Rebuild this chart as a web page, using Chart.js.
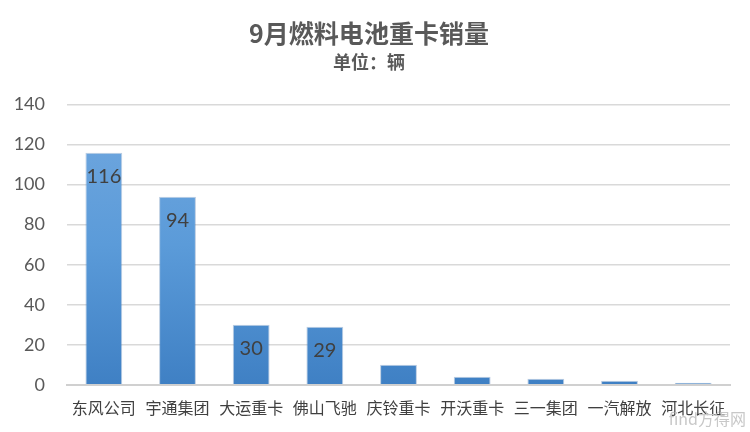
<!DOCTYPE html>
<html>
<head>
<meta charset="utf-8">
<script src="https://cdn.jsdelivr.net/npm/chart.js@4.4.1/dist/chart.umd.min.js"></script>
<style>
    html, body { margin: 0; padding: 0; background: #ffffff; }
    #wrap { position: relative; width: 750px; height: 432px; }
    #mark { position: absolute; right: 4px; bottom: 2px; font: 16px 'Noto Sans CJK SC', sans-serif; color: #c8c8c8; }
</style>
</head>
<body>
<div id="wrap">
    <canvas id="salesChart" width="750" height="432"></canvas>
    <div id="mark">find方得网</div>
</div>
<script>
var categories = ['东风公司', '宇通集团', '大运重卡', '佛山飞驰', '庆铃重卡', '开沃重卡', '三一集团', '一汽解放', '河北长征'];
var sales = [116, 94, 30, 29, 10, 4, 3, 2, 1];
var labelled = [true, true, true, true, false, false, false, false, false];
var yTicks = [0, 20, 40, 60, 80, 100, 120, 140];

// Values drawn just below the top of the bar, like Excel "inside end"
var insideLabels = {
    id: 'insideLabels',
    afterDatasetsDraw: function(chart) {
        var ctx = chart.ctx;
        var meta = chart.getDatasetMeta(0);
        ctx.save();
        ctx.font = '20px Lato, sans-serif';
        ctx.fillStyle = '#404040';
        ctx.textAlign = 'center';
        ctx.textBaseline = 'middle';
        meta.data.forEach(function(bar, i) {
            if (!labelled[i]) return;
            ctx.fillText(String(sales[i]), bar.x, bar.y + 24);
        });
        ctx.restore();
    }
};

function barFill(context) {
    var area = context.chart.chartArea;
    if (!area) return '#5b9bd5';
    var g = context.chart.ctx.createLinearGradient(0, area.top, 0, area.bottom);
    g.addColorStop(0, '#72a8df');
    g.addColorStop(0.5, '#5b9bd9');
    g.addColorStop(1, '#3f80c4');
    return g;
}

new Chart(document.getElementById('salesChart'), {
    type: 'bar',
    data: {
        labels: categories,
        datasets: [{
            data: sales,
            backgroundColor: barFill,
            borderColor: 'rgba(60,110,170,0.35)',
            borderWidth: 1,
            categoryPercentage: 1,
            barPercentage: 0.5
        }]
    },
    options: {
        responsive: false,
        animation: false,
        layout: { padding: { left: 8, right: 20, top: 0, bottom: 8 } },
        scales: {
            y: {
                min: 0,
                max: 140,
                afterBuildTicks: function(axis) {
                    axis.ticks = yTicks.map(function(v) { return { value: v }; });
                },
                afterFit: function(axis) { axis.width = 59; },
                grid: { color: '#d9d9d9', lineWidth: 1.5, drawTicks: false },
                border: { display: false },
                ticks: {
                    padding: 22,
                    color: '#595959',
                    font: { size: 18, family: 'Lato, sans-serif' }
                }
            },
            x: {
                grid: { display: false },
                border: { color: '#d0d0d0', width: 2 },
                ticks: {
                    padding: 6,
                    maxRotation: 0,
                    autoSkip: false,
                    color: '#404040',
                    font: { size: 16, family: "'Noto Sans CJK SC', sans-serif" }
                }
            }
        },
        plugins: {
            legend: { display: false },
            tooltip: { enabled: false },
            title: {
                display: true,
                text: '9月燃料电池重卡销量',
                color: '#595959',
                font: { size: 25, weight: 'bold', family: "'Noto Sans CJK SC', sans-serif" },
                padding: { top: 18, bottom: 0 }
            },
            subtitle: {
                display: true,
                text: '单位：辆',
                color: '#595959',
                font: { size: 18, weight: 'bold', family: "'Noto Sans CJK SC', sans-serif" },
                padding: { top: 3, bottom: 32 }
            }
        }
    },
    plugins: [insideLabels]
});
</script>
</body>
</html>
